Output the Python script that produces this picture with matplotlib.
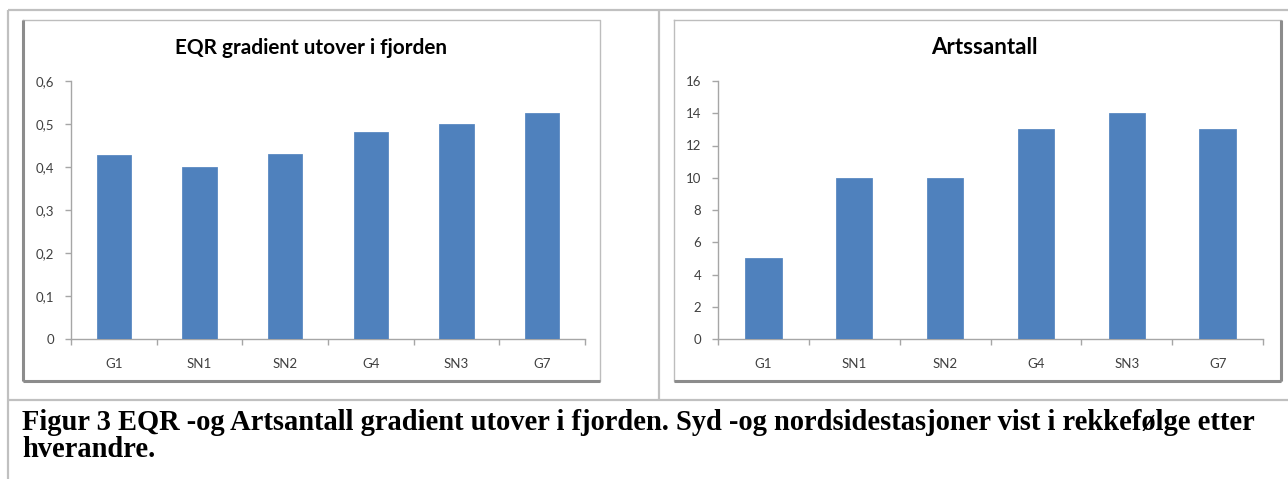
import matplotlib
matplotlib.use("Agg")
import matplotlib.pyplot as plt
from matplotlib.ticker import FixedLocator, FuncFormatter

# ---- data ----
stations = ["G1", "SN1", "SN2", "G4", "SN3", "G7"]
eqr_values = [0.428, 0.401, 0.431, 0.482, 0.500, 0.526]
arts_values = [5, 10, 10, 13, 14, 13]
eqr_ticks = [0, 0.1, 0.2, 0.3, 0.4, 0.5, 0.6]
arts_ticks = [0, 2, 4, 6, 8, 10, 12, 14, 16]
title1 = "EQR gradient utover i fjorden"
title2 = "Artssantall"
caption1 = "Figur 3 EQR -og Artsantall gradient utover i fjorden. Syd -og nordsidestasjoner vist i rekkefølge etter"
caption2 = "hverandre."

W, H = 1288, 479
DPI = 100
BAR = "#4F81BD"
AXC = "#A6A6A6"
TXT = "#404040"
FONT = "Lato"

fig = plt.figure(figsize=(W / DPI, H / DPI), dpi=DPI)
fig.patch.set_facecolor("white")

# overlay axes in pixel coords (top-left origin)
ov = fig.add_axes([0, 0, 1, 1], zorder=0)
ov.set_xlim(0, W)
ov.set_ylim(H, 0)
ov.axis("off")

# table lines
tc = "#C0C0C0"
ov.plot([8, W], [10, 10], color=tc, lw=1.6, solid_capstyle="butt")
ov.plot([8, 8], [10, H], color=tc, lw=1.6, solid_capstyle="butt")
ov.plot([659, 659], [10, 400], color=tc, lw=1.6, solid_capstyle="butt")
ov.plot([8, W], [400, 400], color=tc, lw=1.6, solid_capstyle="butt")


def chart_box(x0, y0, x1, y1, thick_left):
    light = "#BDBDBD"
    dark = "#8C8C8C"
    ov.plot([x0, x1, x1, x0, x0], [y0, y0, y1, y1, y0], color=light, lw=1.0)
    if thick_left:
        ov.plot([x0, x0], [y0, y1], color=dark, lw=2.2, solid_capstyle="butt")
    else:
        ov.plot([x1, x1], [y0, y1], color=dark, lw=2.2, solid_capstyle="butt")
    ov.plot([x0, x1], [y1, y1], color=dark, lw=2.2, solid_capstyle="butt")


chart_box(23, 20, 600, 381, True)
chart_box(674, 20, 1281, 381, False)


def make_axes(left, right, top, bottom):
    return fig.add_axes([left / W, (H - bottom) / H, (right - left) / W, (bottom - top) / H], zorder=2)


def style(ax, values, ticks, fmt, ymax):
    x = list(range(len(stations)))
    ax.bar(x, values, width=0.4, color=BAR, edgecolor="#5B8AC2", linewidth=0.6, zorder=3)
    ax.set_xlim(-0.5, len(stations) - 0.5)
    ax.set_ylim(0, ymax)
    ax.set_facecolor("none")
    for s in ["top", "right"]:
        ax.spines[s].set_visible(False)
    for s in ["left", "bottom"]:
        ax.spines[s].set_color(AXC)
        ax.spines[s].set_linewidth(1.0)
    ax.yaxis.set_major_locator(FixedLocator(ticks))
    ax.yaxis.set_major_formatter(FuncFormatter(fmt))
    ax.tick_params(axis="y", direction="out", length=4, width=1.0, color=AXC, pad=8,
                   labelsize=9.5, labelcolor=TXT)
    ax.set_xticks(x)
    ax.set_xticklabels(stations)
    ax.set_xticks([i - 0.5 for i in range(len(stations) + 1)], minor=True)
    ax.tick_params(axis="x", which="major", length=0, pad=14, labelsize=9.5, labelcolor=TXT)
    ax.tick_params(axis="x", which="minor", direction="out", length=4, width=1.0, color=AXC)
    for lab in ax.get_xticklabels() + ax.get_yticklabels():
        lab.set_family(FONT)


ax1 = make_axes(71, 585, 81, 339)
style(ax1, eqr_values, eqr_ticks, lambda v, p: ("%g" % v).replace(".", ","), 0.6)
ax2 = make_axes(718, 1263, 81, 339)
style(ax2, arts_values, arts_ticks, lambda v, p: "%d" % v, 16)

fig.canvas.draw()
renderer = fig.canvas.get_renderer()


def fitted_text(x, y, s, target_w, ha, family, weight, size0=12, color="black"):
    t = ov.text(x, y, s, ha=ha, va="baseline", fontsize=size0, family=family,
                fontweight=weight, color=color)
    w = t.get_window_extent(renderer).width
    t.set_fontsize(size0 * target_w / w)
    return t


fitted_text(311, 54, title1, 271, "center", FONT, "bold", color="black")
fitted_text(984, 54, title2, 106, "center", FONT, "bold", color="black")

t1 = fitted_text(22, 430, caption1, 1225, "left", "Liberation Serif", "bold")
ov.text(22, 457, caption2, ha="left", va="baseline", fontsize=t1.get_fontsize(),
        family="Liberation Serif", fontweight="bold", color="black")

fig.savefig("out.png", dpi=DPI)
